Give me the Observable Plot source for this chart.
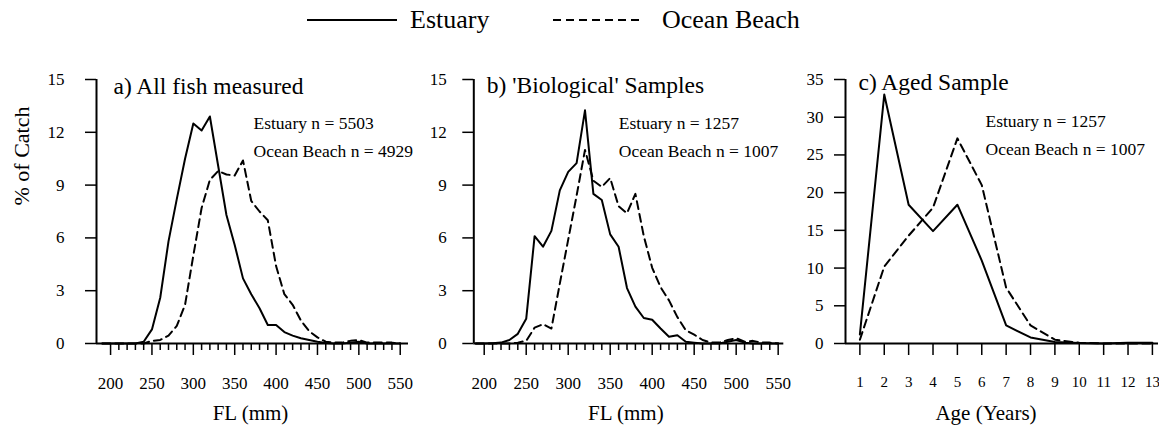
<!DOCTYPE html>
<html>
<head>
<meta charset="utf-8">
<script src="https://cdn.jsdelivr.net/npm/d3@7"></script>
<script src="https://cdn.jsdelivr.net/npm/@observablehq/plot@0.6"></script>
<style>
  body { margin: 0; background: #fff; }
  #chart { position: relative; width: 1159px; height: 430px; overflow: hidden;
           font-family: "Liberation Serif", "Times New Roman", serif; color: #000; }
  #legend { position: absolute; left: 0; top: 0; }
  .panel { position: absolute; top: 60px; }
</style>
</head>
<body>
<div id="chart"></div>
<script>
// Fork length bins (mm) shared by panels a and b
const flMm = [190,200,210,220,230,240,250,260,270,280,290,300,310,320,330,340,350,360,370,
              380,390,400,410,420,430,440,450,460,470,480,490,500,510,520,530,540,550];

// a) All fish measured, % of catch per 10 mm bin
const estuaryAll = [0,0,0,0,0,0.1,0.8,2.6,5.8,8.2, 10.5,12.5,12.1,12.9,10.1,7.3,5.6,3.7,2.8,2.0,
                    1.05,1.05,0.65,0.45,0.3,0.2,0.1,0.03,0,0, 0.05,0.1,0,0,0,0,0];
const oceanAll   = [0,0,0,0,0,0,0.15,0.2,0.45,1.0, 2.2,5.0,7.7,9.3,9.8,9.6,9.55,10.4,8.1,7.5,
                    7.0,4.4,2.8,2.2,1.3,0.7,0.35,0.1,0.05,0.05, 0.15,0.2,0.05,0.05,0.05,0.05,0];

// b) 'Biological' samples
const estuaryBio = [0,0,0.02,0.05,0.2,0.55,1.4,6.1,5.5,6.4, 8.7,9.75,10.25,13.25,8.5,8.15,6.2,5.5,3.15,2.1,
                    1.45,1.35,0.85,0.38,0.47,0.1,0.05,0,0,0, 0.1,0.2,0.05,0,0,0,0];
const oceanBio   = [0,0,0,0,0,0.05,0.15,0.9,1.1,0.85, 3.4,5.9,8.4,11.0,9.25,8.9,9.4,7.8,7.4,8.5,
                    6.1,4.3,3.2,2.45,1.5,0.75,0.5,0.2,0.05,0.05, 0.2,0.3,0.1,0.15,0.05,0.05,0];

// c) Aged sample, % of catch per age class
const ageYears    = [1,2,3,4,5,6,7,8,9,10,11,12,13];
const estuaryAged = [1.2,33.0,18.4,14.9,18.4,11.0,2.4,0.8,0.2,0.05,0,0.1,0.1];
const oceanAged   = [0.5,10.2,14.3,18.0,27.2,21.0,7.4,2.4,0.5,0.1,0,0,0];

// Axis ticks
const flMajorTicks = [200,250,300,350,400,450,500,550];
const flMinorTicks = [210,220,230,240,260,270,280,290,310,320,330,340,360,370,380,390,
                      410,420,430,440,460,470,480,490,510,520,530,540];
const pctTicksFL  = [0,3,6,9,12,15];
const pctTicksAge = [0,5,10,15,20,25,30,35];

// Text
const seriesNames = ["Estuary", "Ocean Beach"];
const panelTitles = ["a) All fish measured", "b) 'Biological' Samples", "c) Aged Sample"];
const sampleNotes = [
  ["Estuary n = 5503", "Ocean Beach n = 4929"],
  ["Estuary n = 1257", "Ocean Beach n = 1007"],
  ["Estuary n = 1257", "Ocean Beach n = 1007"]
];
const xTitles = ["FL (mm)", "FL (mm)", "Age (Years)"];
const yTitle = "% of Catch";

const FONT = "Liberation Serif, Times New Roman, serif";
const DASH = "8,5";
const pairs = (xs, ys) => xs.map((x, i) => ({x, y: ys[i]}));

function panel(o) {
  const marks = [
    Plot.ruleY([0], {strokeWidth: 2}),
    Plot.ruleX([o.xDomain[0]], {strokeWidth: 2}),
    Plot.axisY({ticks: o.yTicks, tickSize: 11, tickPadding: o.yPad, fontSize: 17,
                strokeWidth: 1.5, label: null}),
    Plot.axisX({ticks: o.xTicks, tickSize: 12, tickPadding: o.xPad, fontSize: o.xFont,
                strokeWidth: 1.5, label: null}),
    Plot.line(pairs(o.xs, o.estuary), {x: "x", y: "y", strokeWidth: 2, stroke: "#000"}),
    Plot.line(pairs(o.xs, o.ocean), {x: "x", y: "y", strokeWidth: 2, stroke: "#000",
                                     strokeDasharray: DASH}),
    Plot.text([o.title], {frameAnchor: "top-left", dx: o.titleDx, dy: o.titleDy,
                          textAnchor: "start", lineAnchor: "middle", fontSize: 23.5, text: d => d}),
    Plot.text([o.notes[0]], {frameAnchor: "top-left", dx: o.noteDx, dy: o.noteDy,
                             textAnchor: "start", lineAnchor: "middle", fontSize: 17.5, text: d => d}),
    Plot.text([o.notes[1]], {frameAnchor: "top-left", dx: o.noteDx, dy: o.noteDy + 28,
                             textAnchor: "start", lineAnchor: "middle", fontSize: 17.5, text: d => d}),
    Plot.text([o.xTitle], {frameAnchor: "bottom", dx: o.xTitleDx, dy: 70,
                           lineAnchor: "middle", fontSize: 21, text: d => d})
  ];
  if (o.minor) {
    marks.splice(4, 0, Plot.axisX({ticks: o.minor, tickSize: 7, strokeWidth: 1.5,
                                   tickFormat: () => "", label: null}));
  }
  if (o.yTitle) {
    marks.push(Plot.text([o.yTitle], {frameAnchor: "left", dx: -75, dy: -6, rotate: -90,
                                      lineAnchor: "middle", fontSize: 22, text: d => d}));
  }
  const svg = Plot.plot({
    width: o.width, height: 370,
    marginTop: 19, marginBottom: 87, marginLeft: o.marginLeft, marginRight: o.marginRight,
    style: {fontFamily: FONT, fontSize: "16px", background: "transparent", overflow: "visible", color: "#000"},
    x: {domain: o.xDomain},
    y: {domain: o.yDomain},
    marks
  });
  svg.classList.add("panel");
  svg.style.left = o.left + "px";
  return svg;
}

const chart = document.getElementById("chart");

// Legend across the top
const legend = d3.create("svg").attr("id", "legend").attr("width", 1159).attr("height", 50);
const legendItems = [
  {name: seriesNames[0], x1: 307, x2: 397, tx: 410, dash: null},
  {name: seriesNames[1], x1: 553, x2: 643, tx: 662, dash: DASH}
];
for (const it of legendItems) {
  legend.append("line").attr("x1", it.x1).attr("x2", it.x2).attr("y1", 20).attr("y2", 20)
    .attr("stroke", "#000").attr("stroke-width", 2).attr("stroke-dasharray", it.dash);
  legend.append("text").attr("x", it.tx).attr("y", 28).attr("font-family", FONT)
    .attr("font-size", 26).text(it.name);
}
chart.appendChild(legend.node());

chart.appendChild(panel({
  left: 0, width: 420, marginLeft: 96, marginRight: 12,
  xDomain: [183, 560], yDomain: [0, 15], yTicks: pctTicksFL, yPad: 21,
  xTicks: flMajorTicks, minor: flMinorTicks, xPad: 21, xFont: 17,
  xs: flMm, estuary: estuaryAll, ocean: oceanAll,
  title: panelTitles[0], titleDx: 17, titleDy: 7,
  notes: sampleNotes[0], noteDx: 157, noteDy: 44,
  xTitle: xTitles[0], xTitleDx: -2, yTitle
}));

chart.appendChild(panel({
  left: 430, width: 370, marginLeft: 43.3, marginRight: 16.7,
  xDomain: [187.6, 556.7], yDomain: [0, 15], yTicks: pctTicksFL, yPad: 16,
  xTicks: flMajorTicks, minor: flMinorTicks, xPad: 21, xFont: 17,
  xs: flMm, estuary: estuaryBio, ocean: oceanBio,
  title: panelTitles[1], titleDx: 13, titleDy: 6,
  notes: sampleNotes[1], noteDx: 145, noteDy: 44,
  xTitle: xTitles[1], xTitleDx: -3
}));

chart.appendChild(panel({
  left: 800, width: 359, marginLeft: 45, marginRight: 1,
  xDomain: [0.41, 13.25], yDomain: [0, 35], yTicks: pctTicksAge, yPad: 11,
  xTicks: ageYears, minor: null, xPad: 21, xFont: 15,
  xs: ageYears, estuary: estuaryAged, ocean: oceanAged,
  title: panelTitles[2], titleDx: 13, titleDy: 3,
  notes: sampleNotes[2], noteDx: 140, noteDy: 42,
  xTitle: xTitles[2], xTitleDx: -16
}));
</script>
</body>
</html>
